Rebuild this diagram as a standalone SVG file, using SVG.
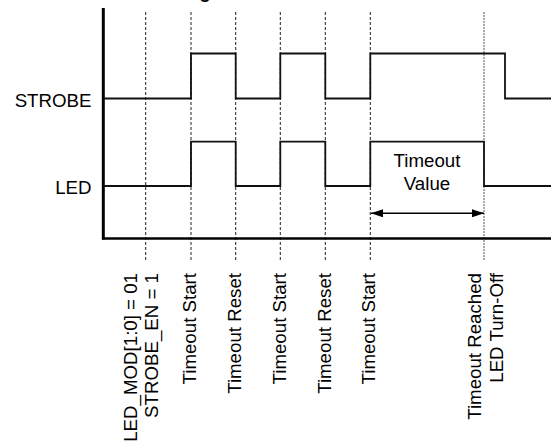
<svg xmlns="http://www.w3.org/2000/svg" width="551" height="443" viewBox="0 0 551 443">
<style>
text{font-family:"Liberation Sans",Arial,sans-serif;font-size:18.7px;fill:#000}
.dash{stroke:#222;stroke-width:1;stroke-dasharray:3 2;fill:none}
.sig{stroke:#111;stroke-width:1.8;fill:none}
.axis{stroke:#000;fill:none}
</style>
<defs>
<marker id="ah" viewBox="0 0 12 8" refX="12" refY="4" markerWidth="12" markerHeight="8" markerUnits="userSpaceOnUse" orient="auto-start-reverse">
<path d="M0,0 L12,4 L0,8 Z" fill="#000"/>
</marker>
</defs>
<rect width="551" height="443" fill="#fff"/>
<text x="205" y="-2" text-anchor="middle" font-weight="bold">g</text>
<g id="gridlines">
<line class="dash" x1="145.7" y1="12" x2="145.7" y2="260"/>
<line class="dash" x1="191" y1="12" x2="191" y2="260"/>
<line class="dash" x1="235.7" y1="12" x2="235.7" y2="260"/>
<line class="dash" x1="280.3" y1="12" x2="280.3" y2="260"/>
<line class="dash" x1="325.3" y1="12" x2="325.3" y2="260"/>
<line class="dash" x1="370.3" y1="12" x2="370.3" y2="260"/>
<line class="dash" x1="484" y1="12" x2="484" y2="260" style="stroke:#555;stroke-dasharray:2 1"/>
</g>
<g id="axes">
<line class="axis" x1="103.3" y1="8" x2="103.3" y2="239.5" stroke-width="3"/>
<line class="axis" x1="102" y1="238.5" x2="551" y2="238.5" stroke-width="2.5"/>
</g>
<g id="strobe">
<text x="91.5" y="106.5" text-anchor="end">STROBE</text>
<path class="sig" d="M103,98.5 H191 V53.5 H235.7 V98.5 H280.3 V53.5 H325.3 V98.5 H370.3 V53.5 H505 V98.5 H551"/>
</g>
<g id="led">
<text x="91.5" y="194.3" text-anchor="end">LED</text>
<path class="sig" d="M103,186 H191 V141.7 H235.7 V186 H280.3 V141.7 H325.3 V186 H370.3 V141.7 H484 V186 H551"/>
</g>
<g id="timeout-value">
<text x="427" y="167" text-anchor="middle">Timeout</text>
<text x="427" y="189.5" text-anchor="middle">Value</text>
</g>
<g id="connectors">
<line x1="371" y1="213.3" x2="484" y2="213.3" stroke="#000" stroke-width="1.5" marker-start="url(#ah)" marker-end="url(#ah)"/>
</g>
<g id="event-labels">
<text transform="translate(137,273) rotate(-90)" text-anchor="end">LED_MOD[1:0] = 01</text>
<text transform="translate(157.5,273) rotate(-90)" text-anchor="end">STROBE_EN = 1</text>
<text transform="translate(196.3,273) rotate(-90)" text-anchor="end">Timeout Start</text>
<text transform="translate(241.3,273) rotate(-90)" text-anchor="end">Timeout Reset</text>
<text transform="translate(286,273) rotate(-90)" text-anchor="end">Timeout Start</text>
<text transform="translate(331,273) rotate(-90)" text-anchor="end">Timeout Reset</text>
<text transform="translate(375,273) rotate(-90)" text-anchor="end">Timeout Start</text>
<text transform="translate(481.3,273) rotate(-90)" text-anchor="end">Timeout Reached</text>
<text transform="translate(503,273) rotate(-90)" text-anchor="end">LED Turn-Off</text>
</g>
</svg>
